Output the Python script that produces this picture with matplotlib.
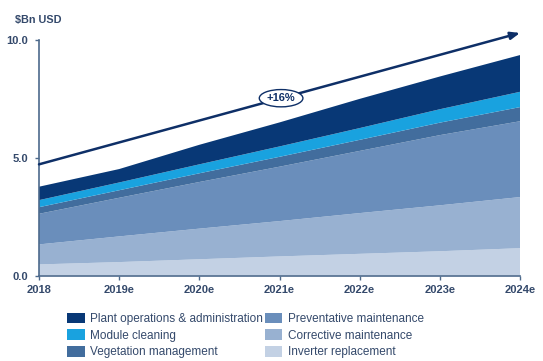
import matplotlib
matplotlib.use("Agg")
import matplotlib.pyplot as plt
import numpy as np

years = ["2018", "2019e", "2020e", "2021e", "2022e", "2023e", "2024e"]
inverter = [0.47, 0.57, 0.69, 0.81, 0.92, 1.03, 1.16]
corrective = [0.85, 1.09, 1.30, 1.50, 1.73, 1.95, 2.17]
preventative = [1.30, 1.64, 1.98, 2.31, 2.64, 2.98, 3.22]
vegetation = [0.28, 0.32, 0.37, 0.42, 0.47, 0.53, 0.60]
cleaning = [0.30, 0.33, 0.38, 0.44, 0.50, 0.57, 0.65]
plant_ops = [0.57, 0.57, 0.83, 1.02, 1.24, 1.39, 1.56]
arrow_start = 4.72
arrow_end = 10.3
growth_label = "+16%"

series = [
    ("Inverter replacement", inverter, "#c3d1e4"),
    ("Corrective maintenance", corrective, "#98b1d1"),
    ("Preventative maintenance", preventative, "#6a8ebb"),
    ("Vegetation management", vegetation, "#426d9d"),
    ("Module cleaning", cleaning, "#19a2df"),
    ("Plant operations & administration", plant_ops, "#083876"),
]

plt.rcParams['font.family'] = ['Liberation Sans', 'DejaVu Sans']
fig = plt.figure(figsize=(5.43, 3.61), dpi=100)
ax = fig.add_axes([39/543, (361-275.5)/361, (520-39)/543, (275.5-40)/361])

x = np.arange(len(years))
polys = ax.stackplot(x, *[s[1] for s in series], colors=[s[2] for s in series],
                     labels=[s[0] for s in series], linewidth=0)

ax.set_xlim(0, len(years) - 1)
ax.set_ylim(0, 10)
ax.set_yticks([0, 5, 10])
ax.set_yticklabels(["0.0", "5.0", "10.0"])
ax.set_xticks(x)
ax.set_xticklabels(years)

axis_col = "#4d6a8c"
text_col = "#34496b"
for side in ["top", "right"]:
    ax.spines[side].set_visible(False)
for side in ["left", "bottom"]:
    ax.spines[side].set_color(axis_col)
    ax.spines[side].set_linewidth(1.2)
ax.tick_params(axis='both', colors=axis_col, labelcolor=text_col, labelsize=8,
               length=3, width=1)
ax.tick_params(axis='y', pad=5)
ax.tick_params(axis='x', pad=3.5)
for lab in ax.get_xticklabels() + ax.get_yticklabels():
    lab.set_fontweight('bold')

fig.text(15/543, 1 - 20/361, "$Bn USD", color=text_col, fontsize=7.8,
         fontweight='bold', va='center', ha='left')

ax.annotate("", xy=(len(years) - 1, arrow_end), xytext=(0, arrow_start),
            xycoords='data', annotation_clip=False,
            arrowprops=dict(arrowstyle='-|>,head_length=0.55,head_width=0.22',
                            color="#0e2f67", lw=1.8, shrinkA=0, shrinkB=0))
lx = 3.02
ly = arrow_start + (arrow_end - arrow_start) * lx / (len(years) - 1)
ax.text(lx, ly, growth_label, ha='center', va='center', fontsize=8,
        fontweight='bold', color="#0e2f67",
        bbox=dict(boxstyle='ellipse,pad=0.1', fc='white', ec="#0e2f67", lw=1))

handles, labels = ax.get_legend_handles_labels()
order = [5, 4, 3, 2, 1, 0]
leg = fig.legend([handles[i] for i in order], [labels[i] for i in order],
                 ncol=2, loc='upper left', bbox_to_anchor=(61/543, 1 - 307/361),
                 frameon=False, fontsize=8.5, handlelength=1.5, handleheight=1.0,
                 handletextpad=0.45, columnspacing=0.15, labelspacing=0.36,
                 borderpad=0)
for t in leg.get_texts():
    t.set_color(text_col)

fig.savefig("out.png", dpi=100)
